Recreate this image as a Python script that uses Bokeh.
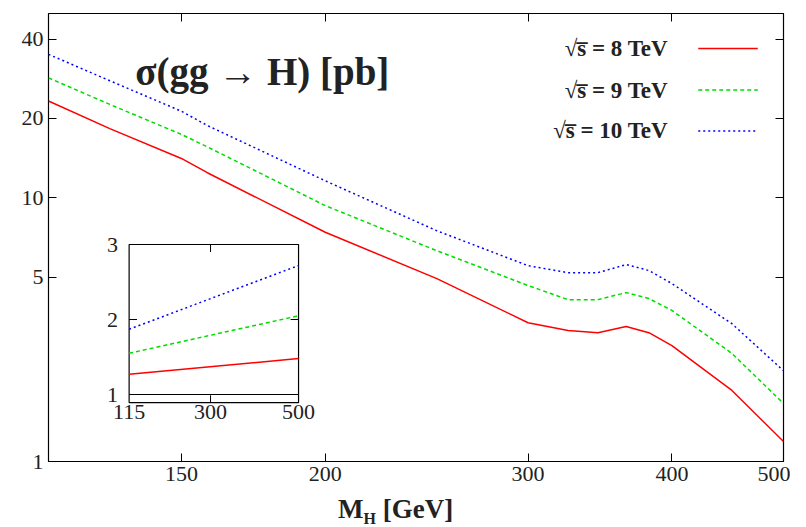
from bokeh.plotting import figure
from bokeh.models import (Range1d, LinearScale, LogAxis, FixedTicker, Label,
                          CustomJSTickFormatter, Div)
from bokeh.layouts import column
from bokeh.embed import file_html
from bokeh.resources import INLINE
from bokeh.core.properties import value

# cross sections [pb]
mh = [115, 130, 150, 158, 200, 250, 300, 325, 345, 365, 382, 400, 451, 500]
xs_8 = [23.3, 18.3, 14.1, 12.45, 7.4, 4.94, 3.36, 3.14, 3.08, 3.25, 3.08, 2.75, 1.86, 1.19]
xs_9 = [28.5, 22.6, 17.4, 15.6, 9.34, 6.3, 4.65, 4.11, 4.11, 4.37, 4.15, 3.74, 2.57, 1.66]
xs_10 = [35.0, 27.8, 21.3, 18.8, 11.6, 7.5, 5.53, 5.2, 5.2, 5.58, 5.3, 4.73, 3.33, 2.21]

# inset: ratios
inset_m = [115, 500]
r_8 = [1.27, 1.48]
r_9 = [1.55, 2.05]
r_10 = [1.87, 2.72]

x_ticks = [150, 200, 300, 400, 500]
y_ticks = [1, 5, 10, 20, 40]
inset_xticks = [115, 300, 500]
inset_yticks = [1, 2, 3]

SERIF = "Liberation Serif"

p = figure(width=790, height=492, x_axis_type="log", y_axis_type="log",
           x_range=(115, 500), y_range=(1, 50), output_backend="svg",
           toolbar_location=None, min_border_left=48, min_border_right=7,
           min_border_top=13, min_border_bottom=31)
p.grid.visible = False
p.outline_line_color = "black"
p.outline_line_width = 1.2
p.background_fill_color = "white"
p.border_fill_color = "white"

right_ax = LogAxis()
top_ax = LogAxis()
p.add_layout(right_ax, "right")
p.add_layout(top_ax, "above")
for ax in p.xaxis:
    ax.ticker = FixedTicker(ticks=x_ticks)
for ax in p.yaxis:
    ax.ticker = FixedTicker(ticks=y_ticks)
for ax in p.axis:
    ax.axis_line_color = None
    ax.major_tick_in = 8
    ax.major_tick_out = 0
    ax.minor_tick_line_color = None
    ax.major_tick_line_color = "black"
    ax.major_label_text_font = SERIF
    ax.major_label_text_font_size = "22px"
    ax.major_label_text_color = "#222222"
    ax.formatter = CustomJSTickFormatter(code="return tick.toString();")
right_ax.major_label_text_color = None
top_ax.major_label_text_color = None

p.line(mh, xs_8, color="red", line_width=1.5)
p.line(mh, xs_9, color="#00dd00", line_width=1.5, line_dash="4 3")
p.line(mh, xs_10, color="blue", line_width=1.5, line_dash="2 3")

# helper ranges: unit range for annotations, linear ranges for the inset
p.extra_x_ranges = {"u": Range1d(0, 1), "ix": Range1d(-68.2, 1602)}
p.extra_y_ranges = {"u": Range1d(0, 1), "iy": Range1d(0.107, 6.08)}
p.extra_x_scales = {"u": LinearScale(), "ix": LinearScale()}
p.extra_y_scales = {"u": LinearScale(), "iy": LinearScale()}

# inset frame
p.quad(left=115, right=500, bottom=0.893, top=3.0, fill_color="white",
       line_color="black", line_width=1.2, x_range_name="ix", y_range_name="iy")
p.line([115, 500], [1, 1], color="black", line_width=1.2,
       x_range_name="ix", y_range_name="iy")
p.line(inset_m, r_8, color="red", line_width=1.5, x_range_name="ix", y_range_name="iy")
p.line(inset_m, r_9, color="#00dd00", line_width=1.5, line_dash="4 3",
       x_range_name="ix", y_range_name="iy")
p.line(inset_m, r_10, color="blue", line_width=1.5, line_dash="2 3",
       x_range_name="ix", y_range_name="iy")
# inset ticks
mid = inset_xticks[1:-1]
p.segment(x0=mid, x1=mid, y0=[0.893] * len(mid), y1=[0.99] * len(mid), color="black",
          x_range_name="ix", y_range_name="iy")
p.segment(x0=mid, x1=mid, y0=[3.0] * len(mid), y1=[2.9] * len(mid), color="black",
          x_range_name="ix", y_range_name="iy")
ymid = inset_yticks[1:-1]
p.segment(x0=[115] * len(ymid), x1=[133] * len(ymid), y0=ymid, y1=ymid, color="black",
          x_range_name="ix", y_range_name="iy")
p.segment(x0=[500] * len(ymid), x1=[482] * len(ymid), y0=ymid, y1=ymid, color="black",
          x_range_name="ix", y_range_name="iy")
p.text(x=inset_xticks, y=[0.86] * 3, text=[str(t) for t in inset_xticks],
       text_align="center", text_baseline="top", text_font=value(SERIF),
       text_font_size="22px", text_color="#222222", x_range_name="ix", y_range_name="iy")
p.text(x=[90] * 3, y=inset_yticks, text=[str(t) for t in inset_yticks],
       text_align="right", text_baseline="middle", text_font=value(SERIF),
       text_font_size="22px", text_color="#222222", x_range_name="ix", y_range_name="iy")

# title
p.add_layout(Label(x=0.118, y=0.87, x_range_name="u", y_range_name="u",
                   text="σ(gg → H) [pb]", text_font=SERIF, text_font_size="39px",
                   text_font_style="bold", text_color="#222222",
                   text_baseline="middle"))

# legend
leg_labels = ["√s̅ = 8 TeV", "√s̅ = 9 TeV", "√s̅ = 10 TeV"]
leg_y = [0.922, 0.829, 0.738]
colors = ["red", "#00dd00", "blue"]
dashes = ["solid", "4 3", "2 3"]
for lab, yy, c, d in zip(leg_labels, leg_y, colors, dashes):
    p.add_layout(Label(x=0.843, y=yy, x_range_name="u", y_range_name="u", text=lab,
                       text_font=SERIF, text_font_size="23px", text_font_style="bold",
                       text_color="#222222", text_align="right",
                       text_baseline="middle"))
    p.line([0.884, 0.965], [yy, yy], color=c, line_width=1.5, line_dash=d,
           x_range_name="u", y_range_name="u")

# x axis label with subscript, as html below the figure
xlabel = Div(text="M<sub style='font-size:16px'>H</sub> [GeV]", width=790, height=27,
             styles={"font-family": SERIF, "font-size": "27px", "font-weight": "bold",
                     "color": "#222222", "padding-left": "333px", "line-height": "24px"})

open("out.html", "w").write(file_html(column(p, xlabel, spacing=0), INLINE))
